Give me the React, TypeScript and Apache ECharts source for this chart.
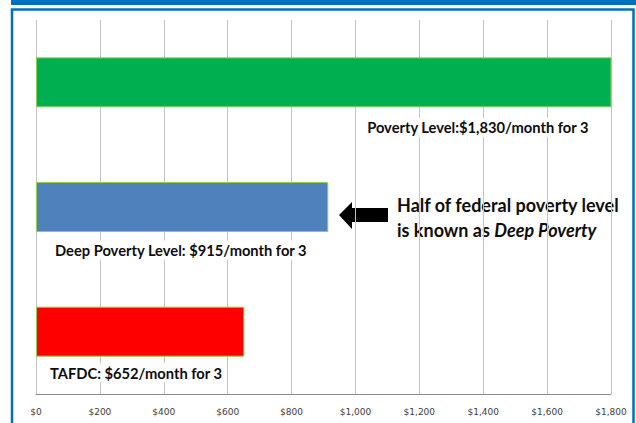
import React, { useEffect, useRef } from "react";
import * as echarts from "echarts";

const categories = ["Poverty Level", "Deep Poverty Level", "TAFDC"];
const values = [1830, 915, 652];
const barColors = ["#00b050", "#4f81bd", "#ff0000"];
const barLabels = [
  "Poverty Level:$1,830/month for 3",
  "Deep Poverty Level: $915/month for 3",
  "TAFDC: $652/month for 3",
];
const tickValues = [0, 200, 400, 600, 800, 1000, 1200, 1400, 1600, 1800];
const noteLine1 = "Half of federal poverty level";
const noteLine2a = "is known as ";
const noteLine2b = "Deep Poverty";

const FONT = "Lato, 'Open Sans', sans-serif";

export default function App() {
  const ref = useRef<HTMLDivElement>(null);
  useEffect(() => {
    if (!ref.current) return;
    const chart = echarts.init(ref.current, null, { renderer: "svg" });
    const labelStyles = [
      { position: ["100%", "100%"], align: "right", offset: [-20, 20] },
      { position: [0, "100%"], align: "left", offset: [16, 18] },
      { position: [0, "100%"], align: "left", offset: [11, 16] },
    ];
    chart.setOption({
      animation: false,
      backgroundColor: "#ffffff",
      grid: { left: 36, right: 25, top: 20, bottom: 29, containLabel: false },
      xAxis: {
        type: "value",
        min: 0,
        max: 1800,
        interval: 200,
        axisLine: { show: true, lineStyle: { color: "#8a8a8a", width: 1 } },
        axisTick: { show: false },
        splitLine: { show: true, lineStyle: { color: "#c4c4c4", width: 1 } },
        axisLabel: {
          color: "#404040",
          fontFamily: "'DejaVu Sans', sans-serif",
          fontSize: 9,
          margin: 13,
          formatter: (v: number) =>
            tickValues.includes(v) ? "$" + v.toLocaleString("en-US") : "",
        },
      },
      yAxis: {
        type: "category",
        data: categories,
        inverse: true,
        axisLine: { show: false },
        axisTick: { show: false },
        axisLabel: { show: false },
        splitLine: { show: false },
      },
      series: [
        {
          type: "bar",
          clip: true,
          barWidth: 50,
          data: values.map((v, i) => ({
            value: v,
            itemStyle: {
              color: barColors[i],
              borderColor: "#92d050",
              borderWidth: 1,
            },
            label: {
              show: true,
              formatter: barLabels[i],
              position: labelStyles[i].position,
              align: labelStyles[i].align,
              verticalAlign: "middle",
              offset: labelStyles[i].offset,
              color: "#0d0d0d",
              fontFamily: FONT,
              fontWeight: "bold",
              fontSize: 14.7,
              backgroundColor: "#ffffff",
              padding: [2, 3],
            },
          })),
        },
      ],
      graphic: [
        {
          type: "rect",
          shape: { x: 11, y: 0, width: 625, height: 5 },
          style: { fill: "#0070c0" },
          silent: true,
        },
        {
          type: "rect",
          shape: { x: 12, y: 9.5, width: 621.5, height: 420 },
          style: { fill: "none", stroke: "#0070c0", lineWidth: 2.5 },
          silent: true,
        },
        {
          type: "polygon",
          shape: {
            points: [
              [339, 215],
              [352, 202],
              [352, 208],
              [388, 208],
              [388, 222],
              [352, 222],
              [352, 229],
            ],
          },
          style: { fill: "#000000" },
          silent: true,
        },
        {
          type: "text",
          x: 397,
          y: 217,
          style: {
            text: noteLine1 + "\n{n|" + noteLine2a + "}{i|" + noteLine2b + "}",
            fill: "#0d0d0d",
            font: "bold 18px " + FONT,
            lineHeight: 25,
            verticalAlign: "middle",
            backgroundColor: "#ffffff",
            padding: [2, 3, 2, 0],
            rich: {
              n: { fontFamily: FONT, fontWeight: "bold", fontSize: 18, fill: "#0d0d0d", lineHeight: 25 },
              i: {
                fontFamily: FONT,
                fontWeight: "bold",
                fontStyle: "italic",
                fontSize: 18,
                fill: "#0d0d0d",
                lineHeight: 25,
              },
            },
          },
          silent: true,
        },
      ],
    });
    return () => chart.dispose();
  }, []);
  return (
    <div
      ref={ref}
      style={{ position: "fixed", left: 0, top: 0, width: 636, height: 423 }}
    />
  );
}
